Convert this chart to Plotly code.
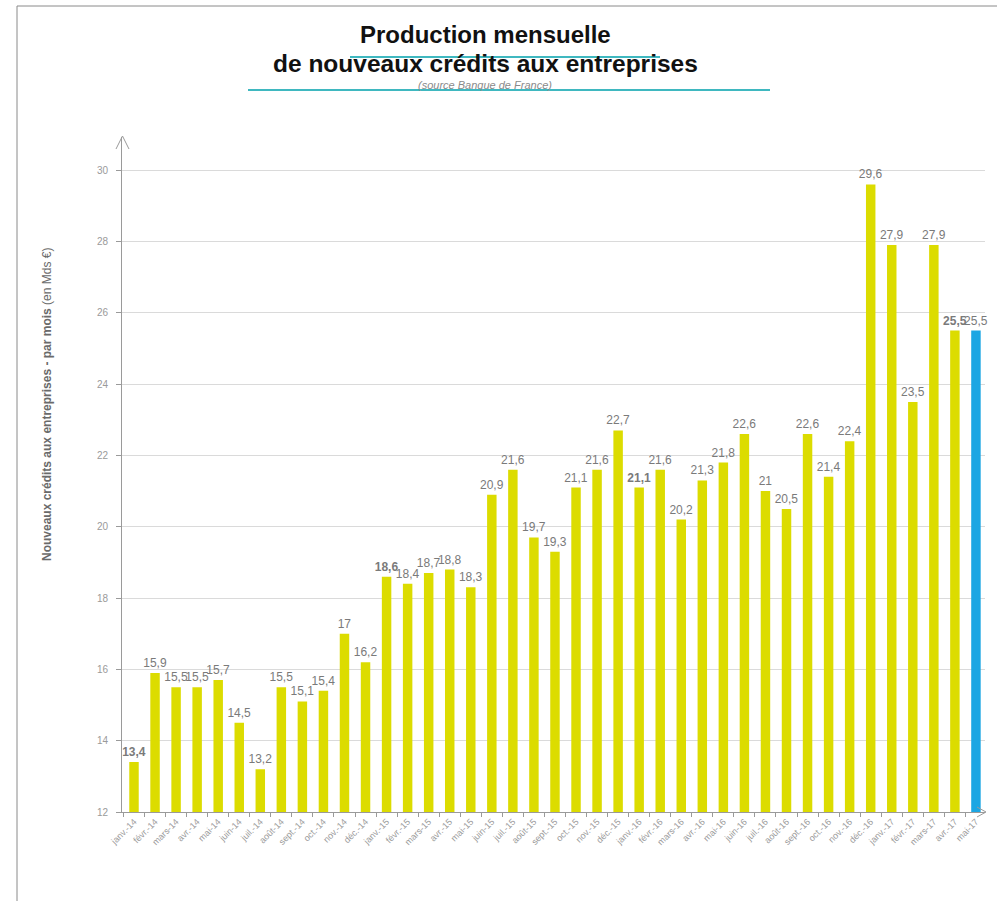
import plotly.graph_objects as go

# Monthly new-credit production to companies, billions of euros
months = [
    "janv.-14", "févr.-14", "mars-14", "avr.-14", "mai-14", "juin-14", "juil.-14", "août-14",
    "sept.-14", "oct.-14", "nov.-14", "déc.-14",
    "janv.-15", "févr.-15", "mars-15", "avr.-15", "mai-15", "juin-15", "juil.-15", "août-15",
    "sept.-15", "oct.-15", "nov.-15", "déc.-15",
    "janv.-16", "févr.-16", "mars-16", "avr.-16", "mai-16", "juin-16", "juil.-16", "août-16",
    "sept.-16", "oct.-16", "nov.-16", "déc.-16",
    "janv.-17", "févr.-17", "mars-17", "avr.-17", "mai-17",
]
values = [
    13.4, 15.9, 15.5, 15.5, 15.7, 14.5, 13.2, 15.5, 15.1, 15.4, 17, 16.2,
    18.6, 18.4, 18.7, 18.8, 18.3, 20.9, 21.6, 19.7, 19.3, 21.1, 21.6, 22.7,
    21.1, 21.6, 20.2, 21.3, 21.8, 22.6, 21, 20.5, 22.6, 21.4, 22.4, 29.6,
    27.9, 23.5, 27.9, 25.5, 25.5,
]
bold_labels = {"janv.-14", "janv.-15", "janv.-16", "avr.-17"}
y_ticks = [12, 14, 16, 18, 20, 22, 24, 26, 28, 30]

YELLOW = "#DCDC00"
BLUE = "#1CA6E3"
GREY_AXIS = "#9A9A9A"


def fr(v):
    return ("%g" % v).replace(".", ",")


labels = [("<b>%s</b>" % fr(v)) if m in bold_labels else fr(v) for m, v in zip(months, values)]
colors = [YELLOW] * (len(values) - 1) + [BLUE]

fig = go.Figure(
    go.Bar(
        x=months,
        y=values,
        marker=dict(color=colors, line=dict(width=0)),
        width=0.45,
        text=labels,
        textposition="outside",
        constraintext="none",
        textfont=dict(family="Liberation Sans, Arial, sans-serif", size=12, color="#7a7a7a"),
        cliponaxis=False,
    )
)

# plot area in pixels (inside a 997x901 page)
L, R, T, B = 122, 985, 137, 812
W, H = 997, 901
pw, ph = R - L, B - T


def px(x):
    return (x - L) / pw


def py(y):
    return (B - y) / ph


fig.update_layout(
    width=W,
    height=H,
    margin=dict(l=L, r=W - R, t=T, b=H - B, pad=0),
    paper_bgcolor="white",
    plot_bgcolor="white",
    showlegend=False,
    font=dict(family="Liberation Sans, Arial, sans-serif"),
    xaxis=dict(
        type="category",
        range=[-0.57, 40.43],
        showline=True,
        linecolor=GREY_AXIS,
        linewidth=1,
        ticks="outside",
        tickson="boundaries",
        ticklen=4,
        tickcolor=GREY_AXIS,
        tickangle=-45,
        tickfont=dict(size=9, color="#9a9a9a"),
        showgrid=False,
    ),
    yaxis=dict(
        range=[12, 30.93],
        tickvals=y_ticks,
        showline=True,
        linecolor=GREY_AXIS,
        linewidth=1,
        ticks="outside",
        ticklen=5,
        tickcolor=GREY_AXIS,
        tickfont=dict(size=10, color="#9a9a9a"),
        showgrid=True,
        gridcolor="#DADADA",
        gridwidth=1,
        zeroline=False,
        ticklabelstandoff=6,
    ),
)

shapes = []
# arrow heads at the ends of both axes
shapes.append(dict(type="path", xref="paper", yref="paper",
                   path="M %f %f L %f %f L %f %f" % (px(L - 6), py(T + 12), px(L + 0.5), py(T - 1), px(L + 7), py(T + 12)),
                   line=dict(color=GREY_AXIS, width=1)))
shapes.append(dict(type="path", xref="paper", yref="paper",
                   path="M %f %f L %f %f L %f %f" % (px(R - 8), py(B - 5), px(R + 1), py(B), px(R - 8), py(B + 5)),
                   line=dict(color=GREY_AXIS, width=1)))
# teal rules around the heading
shapes.append(dict(type="line", xref="paper", yref="paper",
                   x0=px(350), x1=px(660), y0=py(57), y1=py(57),
                   line=dict(color="#3FB8C0", width=2)))
shapes.append(dict(type="line", xref="paper", yref="paper",
                   x0=px(248), x1=px(770), y0=py(90), y1=py(90),
                   line=dict(color="#3FB8C0", width=2)))
# page frame on top and left
shapes.append(dict(type="line", xref="paper", yref="paper",
                   x0=px(17), x1=px(1000), y0=py(6), y1=py(6),
                   line=dict(color="#8a8a8a", width=1)))
shapes.append(dict(type="line", xref="paper", yref="paper",
                   x0=px(17), x1=px(17), y0=py(6), y1=py(905),
                   line=dict(color="#8a8a8a", width=1)))
fig.update_layout(shapes=shapes)

annotations = [
    dict(text="<b>Production mensuelle</b>", x=px(485), y=py(35), xref="paper", yref="paper",
         showarrow=False, xanchor="center", yanchor="middle",
         font=dict(size=24, color="#111111")),
    dict(text="<b>de nouveaux crédits aux entreprises</b>", x=px(485), y=py(63), xref="paper", yref="paper",
         showarrow=False, xanchor="center", yanchor="middle",
         font=dict(size=24.5, color="#111111")),
    dict(text="<i>(source Banque de France)</i>", x=px(485), y=py(85), xref="paper", yref="paper",
         showarrow=False, xanchor="center", yanchor="middle",
         font=dict(size=11, color="#8a8a8a")),
    dict(text="<b>Nouveaux crédits aux entreprises - par mois</b> (en Mds €)",
         x=px(47), y=py(405), xref="paper", yref="paper", textangle=-90,
         showarrow=False, xanchor="center", yanchor="middle",
         font=dict(size=12, color="#6a6a6a")),
]
fig.update_layout(annotations=annotations)

fig.write_html("out.html")
